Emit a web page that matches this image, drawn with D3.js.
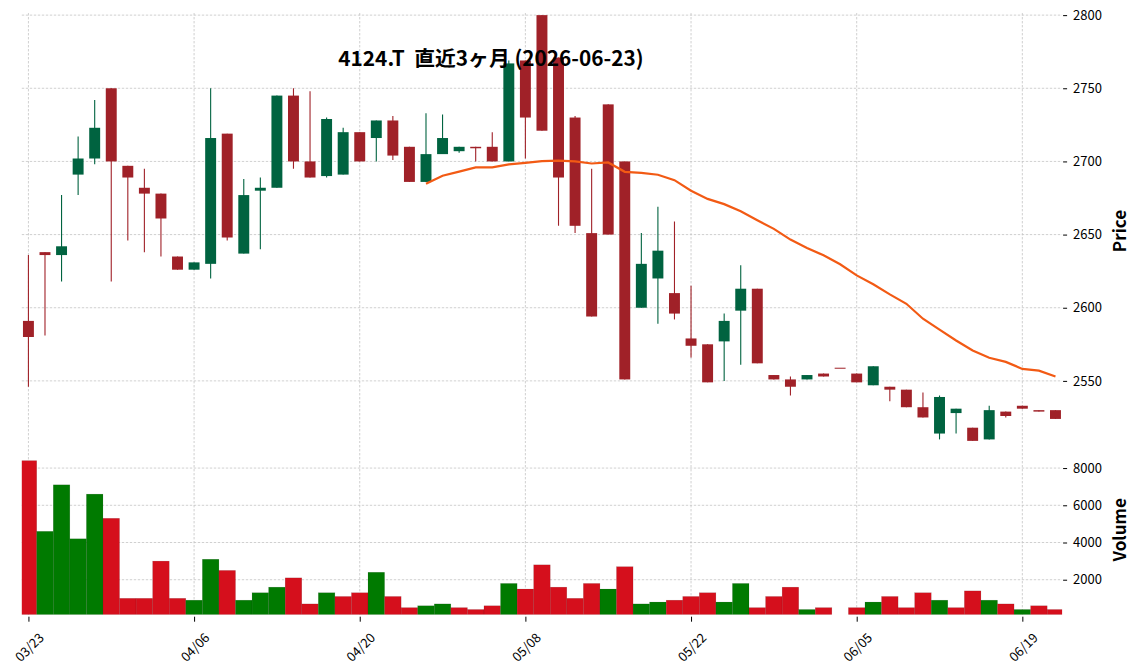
<!DOCTYPE html>
<html>
<head>
<meta charset="utf-8">
<script src="https://cdn.jsdelivr.net/npm/d3@7"></script>
<style>
  body { margin: 0; background: #fff; }
  svg { display: block; font-family: "Noto Sans CJK JP", "Noto Sans", sans-serif; }
  .grid line { stroke: #c4c4c4; stroke-width: 0.8; stroke-dasharray: 2.4,1.6; }
  .axis text { font-size: 13px; fill: #000; font-family: "Noto Sans CJK JP", "Noto Sans", sans-serif; }
  .axis line { stroke: #000; }
  .axis path { display: none; }
  .axis-label { font-size: 17px; font-weight: bold; }
  .graph-title { font-size: 20.8px; font-weight: bold; white-space: pre; }
</style>
</head>
<body>
<div id="chart"></div>
<script>
const WIDTH = 1137, HEIGHT = 672;
const LEFT = 21.8, RIGHT = 1062.1;
const PRICE_TOP = 13, PRICE_BOTTOM = 443;
const VOL_TOP = 445, VOL_BOTTOM = 614.7;

const TITLE = "4124.T  直近3ヶ月 (2026-06-23)";

const dates = [
  "03/23","03/24","03/25","03/26","03/27","03/30","03/31","04/01","04/02","04/03",
  "04/06","04/07","04/08","04/09","04/10","04/13","04/14","04/15","04/16","04/17",
  "04/20","04/21","04/22","04/23","04/24","04/27","04/28","04/30","05/01","05/07",
  "05/08","05/11","05/12","05/13","05/14","05/15","05/18","05/19","05/20","05/21",
  "05/22","05/25","05/26","05/27","05/28","05/29","06/01","06/02","06/03","06/04",
  "06/05","06/08","06/09","06/10","06/11","06/12","06/15","06/16","06/17","06/18",
  "06/19","06/22","06/23"
];

const opens = [
  2591,2638,2636,2691,2702,2750,2697,2682,2678,2635,
  2626,2630,2719,2637,2680,2682,2745,2700,2690,2691,
  2720,2716,2728,2710,2686,2705,2707,2710,2710,2700,
  2769,2800,2771,2730,2651,2739,2700,2600,2620,2610,
  2579,2575,2577,2598,2613,2554,2551,2551,2555,2559,
  2555,2547,2546,2544,2532,2514,2528,2518,2510,2529,
  2533,2530,2530
];
const highs = [
  2636,2638,2677,2717,2742,2750,2697,2695,2678,2635,
  2631,2750,2719,2688,2689,2745,2750,2748,2730,2723,
  2720,2728,2731,2710,2733,2732,2710,2710,2720,2769,
  2769,2800,2771,2731,2695,2739,2700,2651,2669,2659,
  2615,2575,2596,2629,2613,2554,2553,2554,2555,2559,
  2555,2560,2546,2544,2542,2540,2531,2518,2533,2529,
  2533,2530,2530
];
const lows = [
  2546,2581,2618,2677,2698,2618,2646,2638,2635,2626,
  2626,2620,2646,2637,2640,2682,2695,2689,2689,2691,
  2700,2700,2701,2686,2686,2705,2706,2700,2700,2700,
  2702,2721,2656,2651,2594,2650,2551,2600,2589,2592,
  2566,2549,2550,2561,2562,2551,2540,2551,2553,2559,
  2549,2547,2536,2532,2525,2510,2514,2509,2510,2525,
  2531,2529,2524
];
const closes = [
  2580,2636,2642,2702,2723,2700,2689,2678,2661,2626,
  2631,2716,2648,2677,2682,2745,2700,2689,2729,2720,
  2700,2728,2704,2686,2705,2716,2710,2709,2700,2767,
  2730,2721,2689,2656,2594,2650,2551,2630,2639,2596,
  2574,2549,2591,2613,2562,2551,2546,2554,2553,2559,
  2549,2560,2544,2532,2525,2539,2531,2509,2530,2526,
  2531,2529,2524
];
const volumes = [
  8400,4600,7100,4200,6600,5300,1000,1000,3000,1000,
  900,3100,2500,900,1300,1600,2100,700,1300,1100,
  1300,2400,1100,500,600,700,500,400,600,1800,
  1500,2800,1600,1000,1800,1500,2700,700,800,900,
  1100,1300,800,1800,500,1100,1600,400,500,0,
  500,800,1100,500,1300,900,500,1400,900,700,
  400,600,400
];
// 25-day moving average as drawn (first 24 days have none)
const ma25 = [
  null,null,null,null,null,null,null,null,null,null,
  null,null,null,null,null,null,null,null,null,null,
  null,null,null,null,2684.7,2690.2,2693.0,2695.9,2695.9,2698.0,
  2699.0,2700.2,2700.5,2700.0,2698.6,2699.3,2692.9,2692.2,2690.9,2687.2,
  2680.0,2674.4,2670.8,2666.0,2659.8,2653.9,2646.6,2640.9,2635.8,2629.7,
  2622.1,2616.0,2609.1,2602.7,2592.5,2585.0,2577.6,2570.8,2565.8,2563.0,
  2558.2,2557.0,2553.0
];

const priceTicks = [2550, 2600, 2650, 2700, 2750, 2800];
const volumeTicks = [2000, 4000, 6000, 8000];
const dateTicks = [0, 10, 20, 30, 40, 50, 60];

const UP = "#006340", DOWN = "#a02128";
const VOL_UP = "#007a00", VOL_DOWN = "#d50f1c";
const MA_COLOR = "#f25a14";
const FONT = '"Noto Sans CJK JP", "Noto Sans", sans-serif';

const svg = d3.select("#chart").append("svg").attr("width", WIDTH).attr("height", HEIGHT);
svg.append("rect").attr("width", WIDTH).attr("height", HEIGHT).attr("fill", "#fff");

const n = dates.length;
const x = d3.scaleLinear().domain([-0.4, n - 0.6]).range([LEFT, RIGHT]);
const step = x(1) - x(0);

const pMin = d3.min(lows), pMax = d3.max(highs), pad = (pMax - pMin) * 0.005;
const y = d3.scaleLinear().domain([pMin - pad, pMax + pad]).range([PRICE_BOTTOM, PRICE_TOP]);

const vMin = d3.min(volumes.filter(v => v > 0)) * 0.3;
const yv = d3.scaleLinear().domain([vMin, d3.max(volumes) * 1.1]).range([VOL_BOTTOM, VOL_TOP]);

const defs = svg.append("defs");
defs.append("clipPath").attr("id", "clip-price")
  .append("rect").attr("x", LEFT).attr("y", PRICE_TOP).attr("width", RIGHT - LEFT).attr("height", PRICE_BOTTOM - PRICE_TOP);
defs.append("clipPath").attr("id", "clip-vol")
  .append("rect").attr("x", LEFT).attr("y", VOL_TOP).attr("width", RIGHT - LEFT).attr("height", VOL_BOTTOM - VOL_TOP);

// grids
const gridPrice = svg.append("g").attr("class", "grid");
gridPrice.selectAll("line.h").data(priceTicks).join("line")
  .attr("x1", LEFT).attr("x2", RIGHT).attr("y1", d => y(d)).attr("y2", d => y(d));
gridPrice.selectAll("line.v").data(dateTicks).join("line")
  .attr("x1", d => x(d)).attr("x2", d => x(d)).attr("y1", PRICE_TOP).attr("y2", PRICE_BOTTOM);

const gridVol = svg.append("g").attr("class", "grid");
gridVol.selectAll("line.h").data(volumeTicks).join("line")
  .attr("x1", LEFT).attr("x2", RIGHT).attr("y1", d => yv(d)).attr("y2", d => yv(d));
gridVol.selectAll("line.v").data(dateTicks).join("line")
  .attr("x1", d => x(d)).attr("x2", d => x(d)).attr("y1", VOL_TOP).attr("y2", VOL_BOTTOM);

// candles
const idx = d3.range(n);
const candles = svg.append("g").attr("clip-path", "url(#clip-price)");
const bodyW = step * 0.66;
const colorOf = i => closes[i] > opens[i] ? UP : DOWN;

candles.selectAll("line.wick").data(idx).join("line")
  .attr("x1", i => x(i)).attr("x2", i => x(i))
  .attr("y1", i => y(highs[i])).attr("y2", i => y(lows[i]))
  .attr("stroke", colorOf).attr("stroke-width", 1.1);

candles.selectAll("rect.body").data(idx).join("rect")
  .attr("x", i => x(i) - bodyW / 2)
  .attr("width", bodyW)
  .attr("y", i => y(Math.max(opens[i], closes[i])))
  .attr("height", i => Math.max(1, Math.abs(y(opens[i]) - y(closes[i]))))
  .attr("fill", colorOf);

// moving average
const maLine = d3.line()
  .defined(i => ma25[i] != null)
  .x(i => x(i))
  .y(i => y(ma25[i]));
candles.append("path").datum(idx)
  .attr("d", maLine)
  .attr("fill", "none").attr("stroke", MA_COLOR).attr("stroke-width", 2.2);

// volume, coloured by close-to-close change
const volColor = i => (i > 0 && closes[i] >= closes[i - 1]) ? VOL_UP : VOL_DOWN;
svg.append("g").attr("clip-path", "url(#clip-vol)")
  .selectAll("rect").data(idx.filter(i => volumes[i] > vMin)).join("rect")
  .attr("x", i => x(i) - step / 2)
  .attr("width", step)
  .attr("y", i => yv(volumes[i]))
  .attr("height", i => yv(vMin) - yv(volumes[i]))
  .attr("fill", volColor)
  .attr("stroke", "rgba(0,0,0,0.18)").attr("stroke-width", 0.5);

// axes
const yAxis = svg.append("g").attr("class", "axis")
  .attr("transform", `translate(${RIGHT + 1}, 0)`)
  .call(d3.axisRight(y).tickValues(priceTicks).tickSize(4).tickPadding(6).tickFormat(d3.format("d")));

const vAxis = svg.append("g").attr("class", "axis")
  .attr("transform", `translate(${RIGHT + 1}, 0)`)
  .call(d3.axisRight(yv).tickValues(volumeTicks).tickSize(4).tickPadding(6).tickFormat(d3.format("d")));

const xAxis = svg.append("g").attr("class", "axis")
  .attr("transform", `translate(0, ${VOL_BOTTOM + 2})`)
  .call(d3.axisBottom(x).tickValues(dateTicks).tickSize(5).tickFormat(i => dates[i]));
xAxis.selectAll("text")
  .attr("y", 0).attr("dy", 0)
  .attr("text-anchor", "middle")
  .attr("dominant-baseline", "central")
  .attr("transform", "translate(0, 30) rotate(-45)");

[yAxis, vAxis, xAxis].forEach(a => a.attr("font-size", 13).attr("font-family", FONT));

svg.append("text")
  .attr("class", "axis-label")
  .attr("text-anchor", "middle")
  .attr("transform", `translate(1118, 231) rotate(-90)`)
  .attr("dominant-baseline", "central")
  .text("Price");

svg.append("text")
  .attr("class", "axis-label")
  .attr("text-anchor", "middle")
  .attr("transform", `translate(1118, ${(VOL_TOP + VOL_BOTTOM) / 2}) rotate(-90)`)
  .attr("dominant-baseline", "central")
  .text("Volume");

svg.append("text")
  .attr("class", "graph-title")
  .attr("x", 491)
  .attr("y", 66)
  .attr("text-anchor", "middle")
  .text(TITLE);
</script>
</body>
</html>
